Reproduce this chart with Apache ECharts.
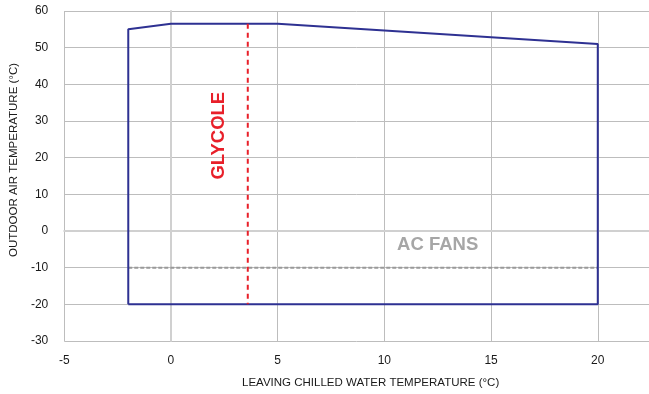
<!DOCTYPE html>
<html>
<head>
    <meta charset="utf-8">
    <title>Operating envelope</title>
    <script src="https://cdn.jsdelivr.net/npm/echarts@6/dist/echarts.min.js"></script>
    <style>
        html, body { margin: 0; padding: 0; background: #fff; }
        #main { width: 649px; height: 394px; }
    </style>
</head>
<body>
    <div id="main"></div>
<script type="text/javascript">
    // envelope outline (leaving water temp, outdoor air temp)
    var envelopeX = [-2, -2, 0, 5, 20, 20, -2];
    var envelopeY = [-20, 55, 56.5, 56.5, 51, -20, -20];
    // glycole limit (vertical dashed)
    var glycoleX = [3.6, 3.6];
    var glycoleY = [56.5, -20];
    // AC fans limit (horizontal dashed)
    var fansX = [-2, 20];
    var fansY = [-10, -10];
    // text labels
    var labelNames = ['GLYCOLE', 'AC FANS'];
    var labelX = [2.25, 12.5];
    var labelY = [26, -3.7];

    function pairs(xs, ys) {
        return xs.map(function(x, i) { return [x, ys[i]]; });
    }

    var font = 'Liberation Sans, Arial, sans-serif';
    var chart = echarts.init(document.getElementById('main'));
    chart.setOption({
        animation: false,
        backgroundColor: '#fff',
        grid: { left: 62, right: 0, top: 11, bottom: 53 },
        xAxis: {
            type: 'value',
            min: -5,
            max: 22.4,
            interval: 5,
            name: 'LEAVING CHILLED WATER TEMPERATURE (°C)',
            nameLocation: 'middle',
            nameGap: 36,
            nameTextStyle: { color: '#1a1a1a', fontSize: 11.5, fontFamily: font, padding: [0, 0, 0, 28] },
            axisLine: { show: true, lineStyle: { color: '#d0d0d0', width: 2 } },
            axisTick: { show: false },
            axisLabel: { color: '#1a1a1a', fontSize: 12, fontFamily: font, margin: 14, showMaxLabel: false },
            splitLine: { show: true, lineStyle: { color: '#bdbdbd', width: 1 } }
        },
        yAxis: {
            type: 'value',
            min: -30,
            max: 60,
            interval: 10,
            name: 'OUTDOOR AIR TEMPERATURE (°C)',
            nameLocation: 'middle',
            nameGap: 39,
            nameTextStyle: { color: '#1a1a1a', fontSize: 11.5, fontFamily: font, padding: [0, 0, 0, 32] },
            axisLine: { show: true, lineStyle: { color: '#d0d0d0', width: 2 } },
            axisTick: { show: false },
            axisLabel: { color: '#1a1a1a', fontSize: 12, fontFamily: font, margin: 16 },
            splitLine: { show: true, lineStyle: { color: '#bdbdbd', width: 1 } }
        },
        series: [{
            type: 'line',
            data: pairs(fansX, fansY),
            symbol: 'none',
            lineStyle: { color: '#999999', width: 2, type: [4, 2] },
            z: 2
        }, {
            type: 'line',
            data: pairs(envelopeX, envelopeY),
            symbol: 'none',
            lineStyle: { color: '#2e3192', width: 2 },
            z: 3
        }, {
            type: 'line',
            data: pairs(glycoleX, glycoleY),
            symbol: 'none',
            lineStyle: { color: '#e8202a', width: 2, type: [5, 4] },
            z: 4
        }, {
            type: 'scatter',
            symbolSize: 0,
            itemStyle: { opacity: 1 },
            data: [
                {
                    value: [labelX[0], labelY[0]], name: labelNames[0],
                    label: { show: true, position: 'inside', rotate: 90, formatter: '{b}',
                        color: '#e8202a', fontSize: 18.5, fontWeight: 'bold', fontFamily: font }
                },
                {
                    value: [labelX[1], labelY[1]], name: labelNames[1],
                    label: { show: true, position: 'inside', formatter: '{b}',
                        color: '#a6a6a6', fontSize: 18.5, fontWeight: 'bold', fontFamily: font }
                }
            ],
            z: 5
        }]
    });
</script>
</body>
</html>
